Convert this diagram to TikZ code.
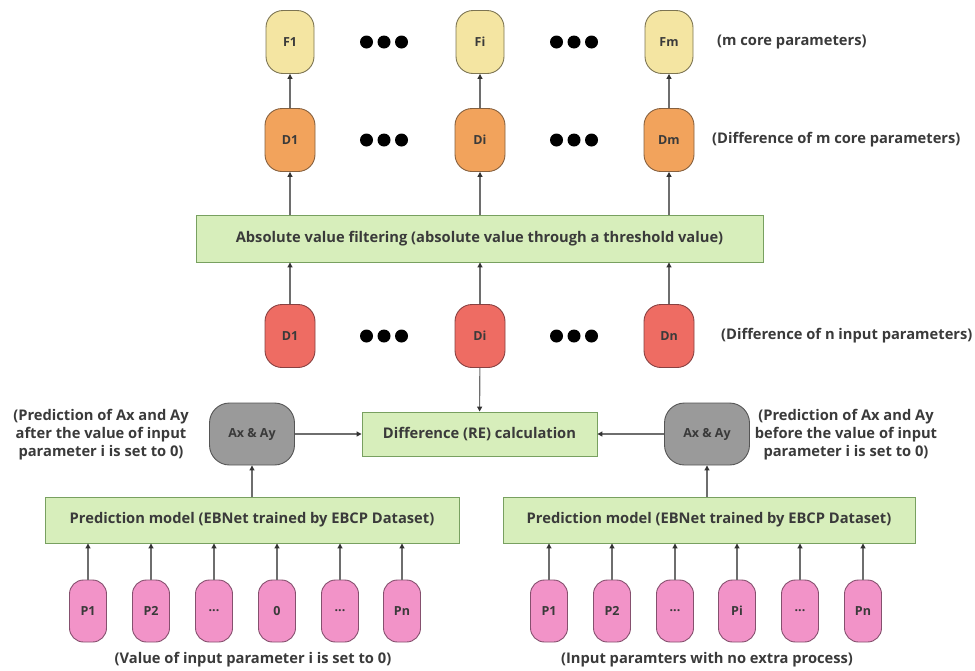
\documentclass[tikz,border=0pt]{standalone}
\usepackage{fontspec}
\setmainfont{Open Sans}
\usetikzlibrary{arrows.meta}
\definecolor{cF}{HTML}{F4E5A2}
\definecolor{cFd}{HTML}{7C7452}
\definecolor{cD}{HTML}{F2A35C}
\definecolor{cDd}{HTML}{86603E}
\definecolor{cR}{HTML}{EE6C63}
\definecolor{cRd}{HTML}{884040}
\definecolor{cG}{HTML}{9A9A9A}
\definecolor{cGd}{HTML}{555555}
\definecolor{cP}{HTML}{F293C8}
\definecolor{cPd}{HTML}{85506E}
\definecolor{cB}{HTML}{D7EEBB}
\definecolor{cBd}{HTML}{78A060}
\definecolor{cT}{HTML}{3A3A3A}
\definecolor{cL}{HTML}{6E6E6E}
\begin{document}
\begin{tikzpicture}[x=1pt,y=-1pt,
  font=\bfseries\fontsize{14.7}{18}\selectfont, text=cT,
  pill/.style={rounded corners=17pt, minimum width=48pt, minimum height=63pt,
    line width=0.9pt, inner sep=0pt, font=\bfseries\fontsize{12.5}{14}\selectfont},
  fnode/.style={pill, fill=cF, draw=cFd},
  dnode/.style={pill, fill=cD, draw=cDd, minimum width=50pt},
  rnode/.style={pill, fill=cR, draw=cRd, minimum width=50pt},
  gnode/.style={pill, fill=cG, draw=cGd, minimum width=85pt, minimum height=62pt, rounded corners=20pt},
  pnode/.style={pill, fill=cP, draw=cPd, minimum width=37pt, minimum height=62pt, rounded corners=14pt},
  box/.style={draw=cBd, fill=cB, line width=0.9pt, inner sep=0pt},
  arr/.style={draw=cL, line width=1.1pt, -{Triangle[length=5pt,width=5pt,color=black!80]}},
  lab/.style={inner sep=0pt}
]
\useasboundingbox (0,0) rectangle (975,670);

% top row
\node[fnode] (F1) at (290,42) {F1};
\node[fnode] (Fi) at (480,42) {Fi};
\node[fnode] (Fm) at (669,42) {Fm};
\node[lab, anchor=west] (lF) at (717,42) {(m core parameters)};

% orange row
\node[dnode] (D1) at (290,140) {D1};
\node[dnode] (Di) at (480,140) {Di};
\node[dnode] (Dm) at (669,140) {Dm};
\node[lab, anchor=west] (lD) at (712,140) {(Difference of m core parameters)};

% filter box
\node[box, minimum width=567pt, minimum height=47pt] (abs) at (479.5,238.5)
  {Absolute value filtering (absolute value through a threshold value)};

% red row
\node[rnode] (R1) at (290,336) {D1};
\node[rnode] (Ri) at (480,336) {Di};
\node[rnode] (Rn) at (669,336) {Dn};
\node[lab, anchor=west] (lR) at (721,336) {(Difference of n input parameters)};

% dots
\foreach \cx/\cy in {384/42,574/42,384/140,574/140,384/336,574/336}
  \foreach \d in {-17.5,0,17.5}
    \fill[black] (\cx+\d,\cy) circle (6.5);

% difference box and grey nodes
\node[box, minimum width=235pt, minimum height=44pt] (diff) at (479.5,434) {Difference (RE) calculation};
\node[gnode] (GL) at (252,434) {Ax \& Ay};
\node[gnode] (GR) at (707,434) {Ax \& Ay};
\node[lab, align=center] (lGL) at (101,435) {(Prediction of Ax and Ay\\after the value of input\\parameter i is set to 0)};
\node[lab, align=center] (lGR) at (846,435) {(Prediction of Ax and Ay\\before the value of input\\parameter i is set to 0)};

% prediction boxes
\node[box, minimum width=414pt, minimum height=46pt] (PL) at (252,520) {Prediction model (EBNet trained by EBCP Dataset)};
\node[box, minimum width=412pt, minimum height=46pt] (PR) at (709,520) {Prediction model (EBNet trained by EBCP Dataset)};

% inputs
\node[pnode] (L1) at (88,611) {P1};
\node[pnode] (L2) at (151,611) {P2};
\node[pnode] (L3) at (214,611) {...};
\node[pnode] (L4) at (277,611) {0};
\node[pnode] (L5) at (340,611) {...};
\node[pnode] (L6) at (402,611) {Pn};
\node[pnode] (Q1) at (549,611) {P1};
\node[pnode] (Q2) at (612,611) {P2};
\node[pnode] (Q3) at (675,611) {...};
\node[pnode] (Q4) at (737,611) {Pi};
\node[pnode] (Q5) at (800,611) {...};
\node[pnode] (Q6) at (863,611) {Pn};
\node[lab] (cL) at (253,660) {(Value of input parameter i is set to 0)};
\node[lab] (cR) at (707,660) {(Input paramters with no extra process)};

% connectors
\foreach \a/\b in {D1/F1,Di/Fi,Dm/Fm}
  \draw[arr] (\a) -- (\b);
\foreach \a in {D1,Di,Dm}
  \draw[arr] (abs.north -| \a) -- (\a);
\foreach \a in {R1,Ri,Rn}
  \draw[arr] (\a) -- (abs.south -| \a);
\draw[arr] (Ri) -- (diff);
\draw[arr] (GL) -- (diff);
\draw[arr] (GR) -- (diff);
\draw[arr] (PL.north -| GL) -- (GL);
\draw[arr] (PR.north -| GR) -- (GR);
\foreach \a in {L1,L2,L3,L4,L5,L6}
  \draw[arr] (\a) -- (PL.south -| \a);
\foreach \a in {Q1,Q2,Q3,Q4,Q5,Q6}
  \draw[arr] (\a) -- (PR.south -| \a);
\end{tikzpicture}
\end{document}
